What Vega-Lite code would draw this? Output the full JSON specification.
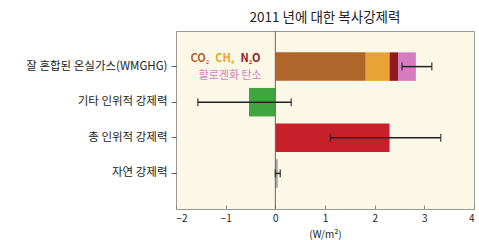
{
  "$schema": "https://vega.github.io/schema/vega-lite/v6.json",
  "width": 298,
  "height": 178,
  "autosize": {"type": "none"},
  "padding": {"left": 176, "top": 31, "right": 5, "bottom": 31},
  "background": "white",
  "title": {"text": "2011 년에 대한 복사강제력", "fontSize": 13.5, "font": "Noto Sans CJK KR", "fontWeight": "normal", "color": "#222", "offset": 6, "anchor": "middle"},
  "config": {
    "view": {"fill": "#FBF8E8", "stroke": "#999", "strokeWidth": 1},
    "font": "Noto Sans CJK KR"
  },
  "datasets": {
    "bars": [
      {"cat": "잘 혼합된 온실가스(WMGHG)", "comp": "CO2", "value": 1.82, "ord": 1},
      {"cat": "잘 혼합된 온실가스(WMGHG)", "comp": "CH4", "value": 0.48, "ord": 2},
      {"cat": "잘 혼합된 온실가스(WMGHG)", "comp": "N2O", "value": 0.17, "ord": 3},
      {"cat": "잘 혼합된 온실가스(WMGHG)", "comp": "Halo", "value": 0.36, "ord": 4},
      {"cat": "기타 인위적 강제력", "comp": "Other", "value": -0.53, "ord": 1},
      {"cat": "총 인위적 강제력", "comp": "Total", "value": 2.3, "ord": 1},
      {"cat": "자연 강제력", "comp": "Natural", "value": 0.05, "ord": 1}
    ],
    "errs": [
      {"cat": "잘 혼합된 온실가스(WMGHG)", "lo": 2.55, "hi": 3.15},
      {"cat": "기타 인위적 강제력", "lo": -1.56, "hi": 0.32},
      {"cat": "총 인위적 강제력", "lo": 1.11, "hi": 3.33},
      {"cat": "자연 강제력", "lo": 0.0, "hi": 0.1}
    ],
    "labels": [
      {"cat": "잘 혼합된 온실가스(WMGHG)", "x": -1.52, "line": 1, "txt": "CO₂", "comp": "CO2"},
      {"cat": "잘 혼합된 온실가스(WMGHG)", "x": -1.02, "line": 1, "txt": "CH₄", "comp": "CH4"},
      {"cat": "잘 혼합된 온실가스(WMGHG)", "x": -0.5, "line": 1, "txt": "N₂O", "comp": "N2O"},
      {"cat": "잘 혼합된 온실가스(WMGHG)", "x": -0.91, "line": 2, "txt": "할로겐화 탄소", "comp": "Halo"}
    ]
  },
  "encoding": {
    "y": {
      "field": "cat", "type": "nominal", "sort": ["잘 혼합된 온실가스(WMGHG)", "기타 인위적 강제력", "총 인위적 강제력", "자연 강제력"],
      "scale": {"paddingInner": 0.2, "paddingOuter": 0.6},
      "axis": {"title": null, "labelFontSize": 11.5, "labelColor": "#222", "tickSize": 5, "tickColor": "#666", "domain": false, "labelPadding": 4}
    }
  },
  "layer": [
    {
      "data": {"name": "bars"},
      "mark": {"type": "bar"},
      "encoding": {
        "x": {
          "field": "value", "type": "quantitative", "stack": "zero",
          "scale": {"domain": [-2, 4], "nice": false},
          "axis": {"title": "(W/m²)", "titleFontSize": 10, "titleFontWeight": "normal", "titleColor": "#222", "titlePadding": 6, "values": [-2, -1, 0, 1, 2, 3, 4], "format": "d", "labelExpr": "replace(datum.label, '-', '−')", "labelFontSize": 10, "labelColor": "#222", "tickSize": -4, "tickColor": "#888", "domain": false, "grid": false, "labelPadding": 8}
        },
        "order": {"field": "ord", "type": "quantitative"},
        "color": {
          "field": "comp", "type": "nominal", "legend": null,
          "scale": {"domain": ["CO2", "CH4", "N2O", "Halo", "Other", "Total", "Natural"], "range": ["#B0652A", "#E8A235", "#8E1B1F", "#D47CBD", "#3FA53F", "#C8202A", "#AAAAAA"]}
        }
      }
    },
    {
      "data": {"values": [{"z": 0}]},
      "mark": {"type": "rule", "color": "#666", "strokeWidth": 1},
      "encoding": {"x": {"field": "z", "type": "quantitative"}, "y": null}
    },
    {
      "data": {"name": "errs"},
      "mark": {"type": "rule", "color": "#222", "strokeWidth": 1.5},
      "encoding": {"x": {"field": "lo", "type": "quantitative"}, "x2": {"field": "hi"}}
    },
    {
      "data": {"name": "errs"},
      "mark": {"type": "tick", "color": "#222", "thickness": 1.5, "size": 8},
      "encoding": {"x": {"field": "lo", "type": "quantitative"}}
    },
    {
      "data": {"name": "errs"},
      "mark": {"type": "tick", "color": "#222", "thickness": 1.5, "size": 8},
      "encoding": {"x": {"field": "hi", "type": "quantitative"}}
    },
    {
      "data": {"name": "labels"},
      "transform": [{"filter": "datum.line == 1"}],
      "mark": {"type": "text", "fontSize": 11, "fontWeight": "bold", "dy": -8, "font": "Noto Sans CJK KR"},
      "encoding": {
        "x": {"field": "x", "type": "quantitative"},
        "text": {"field": "txt"},
        "color": {"field": "comp", "type": "nominal", "legend": null}
      }
    },
    {
      "data": {"name": "labels"},
      "transform": [{"filter": "datum.line == 2"}],
      "mark": {"type": "text", "fontSize": 11, "dy": 9, "font": "Noto Sans CJK KR"},
      "encoding": {
        "x": {"field": "x", "type": "quantitative"},
        "text": {"field": "txt"},
        "color": {"field": "comp", "type": "nominal", "legend": null}
      }
    }
  ]
}
